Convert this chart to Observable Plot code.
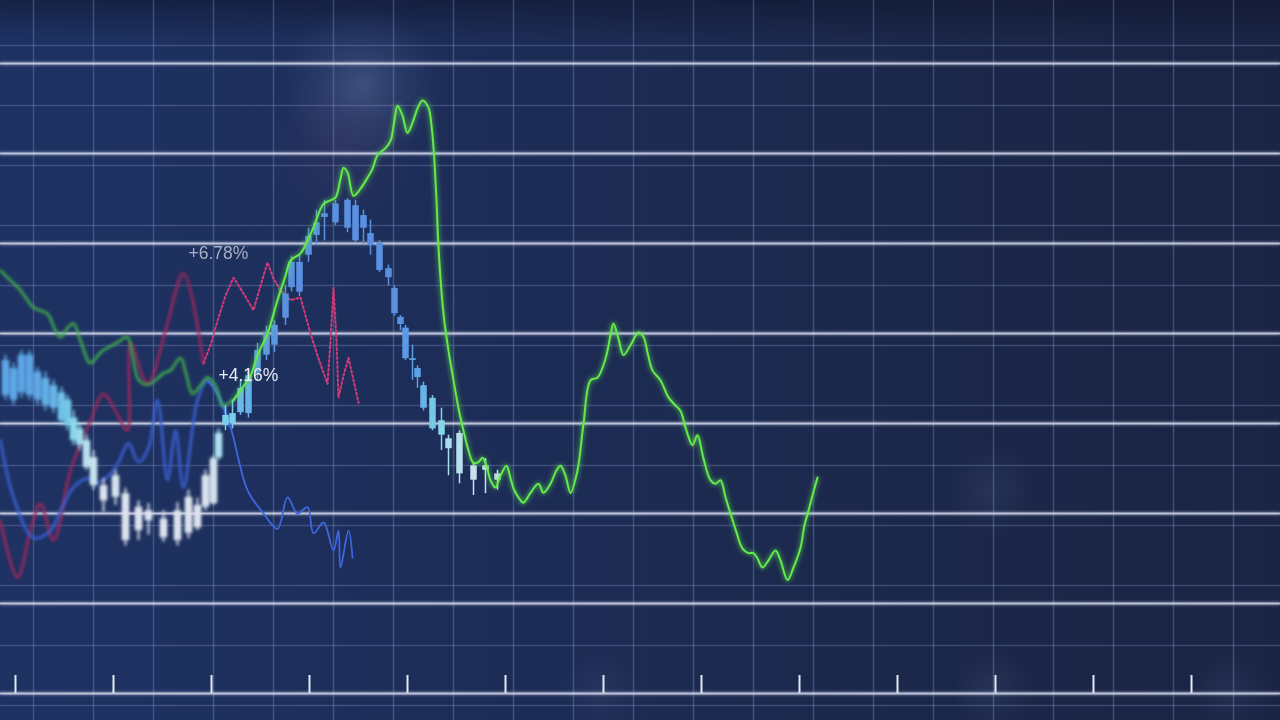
<!DOCTYPE html>
<html>
<head>
<meta charset="utf-8">
<script src="https://cdn.jsdelivr.net/npm/d3@7"></script>
<script src="https://cdn.jsdelivr.net/npm/@observablehq/plot@0.6"></script>
<style>
  html, body { margin: 0; padding: 0; background: #1b2a52; overflow: hidden; }
  #chart { width: 1280px; height: 720px; }
</style>
</head>
<body>
<div id="chart"></div>
<script>
// ---- grid / axis ----
const majorLevels = [0, 10, 20, 30, 40, 50, 60, 70];
const minorLevels = [72, 65.33, 58.67, 52, 45.33, 38.67, 32, 25.33, 18.67, 12, 5.33, -1.33];
const gridTimes = [3.3, 9.3, 15.3, 21.3, 27.3, 33.3, 39.3, 45.3, 51.3, 57.3, 63.3, 69.3, 75.3, 81.3, 87.3, 93.3, 99.3, 105.3, 111.3, 117.3, 123.3];
const tickTimes = [1.5, 11.3, 21.1, 30.9, 40.7, 50.5, 60.3, 70.1, 79.9, 89.7, 99.5, 109.3, 119.1];
const tickTop = 2.0;

// ---- green line ----
const greenT = [
  0, 1.0, 2.0, 3.3, 4.7, 5.5, 6.0, 6.7, 7.3, 8.0,
  9.0, 10.0, 10.7, 11.7, 12.7, 13.2, 13.7, 14.3, 15.0, 15.7,
  16.3, 17.0, 18.0, 18.6, 19.2, 20.0, 20.7, 21.5, 22.2, 22.7,
  23.3, 24.0, 25.0, 25.7, 26.7, 27.7, 28.5, 29.0, 30.0, 30.7,
  31.3, 32.3, 33.0, 33.5, 34.0, 34.3, 34.7, 35.3, 36.0, 36.7,
  37.2, 37.7, 38.5, 39.0, 39.4, 39.7, 40.2, 40.7, 41.2, 41.7,
  42.2, 42.8, 43.1, 43.3, 43.6, 43.8, 44.3, 44.8, 45.3, 45.8,
  46.3, 46.8, 47.3, 47.8, 48.2, 48.6, 49.0, 49.5, 50.0, 50.6,
  51.0, 51.3, 51.8, 52.3, 53.0, 53.8, 54.3, 55.0, 55.6, 56.0,
  56.5, 57.0, 57.7, 58.3, 59.0, 59.7, 60.5, 61.0, 61.3, 61.8,
  62.3, 63.0, 63.8, 64.3, 64.7, 65.2, 66.0, 66.8, 67.5, 68.0,
  68.6, 69.2, 69.7, 70.3, 71.0, 71.5, 72.0, 72.5, 73.0, 73.6,
  74.2, 74.8, 75.3, 75.7, 76.2, 76.8, 77.5, 78.0, 78.7, 79.3,
  80.0, 80.4, 80.8, 81.2, 81.7
];
const greenV = [
  47.0, 45.9, 44.8, 42.9, 42.2, 40.3, 39.6, 40.6, 41.1, 39.2,
  36.7, 37.9, 38.4, 39.0, 39.6, 37.6, 35.1, 34.4, 34.4, 35.0,
  35.6, 35.9, 37.3, 35.3, 33.3, 34.2, 35.1, 34.2, 32.0, 32.2,
  32.6, 33.7, 35.3, 37.6, 40.0, 43.7, 46.4, 48.1, 48.9, 50.3,
  51.8, 54.4, 54.8, 55.1, 57.2, 58.4, 57.9, 55.3, 56.1, 57.3,
  58.3, 59.8, 60.6, 61.4, 63.7, 65.3, 64.2, 62.3, 63.4, 65.0,
  65.9, 65.1, 63.1, 60.7, 54.8, 49.6, 42.2, 38.1, 34.8, 31.7,
  29.2, 27.0, 25.6, 25.7, 26.2, 25.3, 23.7, 22.9, 24.2, 25.3,
  23.9, 22.8, 21.8, 21.2, 22.3, 23.3, 22.3, 23.3, 24.8, 25.3,
  24.2, 22.3, 24.8, 30.0, 34.8, 35.1, 37.2, 39.8, 41.1, 39.4,
  37.6, 38.7, 40.1, 39.6, 37.9, 35.9, 34.8, 32.9, 32.0, 31.4,
  29.2, 27.6, 28.7, 26.1, 23.7, 23.3, 23.7, 21.8, 20.0, 17.9,
  16.1, 15.6, 15.6, 15.0, 14.0, 14.8, 15.9, 14.8, 12.6, 14.0,
  16.2, 18.7, 20.3, 22.0, 24.0
];

// ---- red lines ----
const redSolidT = [0, 1.7, 3.0, 4.0, 5.3, 7.0, 9.0, 10.3, 11.5, 12.7, 13.0, 14.7, 16.5, 18.3, 20.3];
const redSolidV = [19.2, 12.9, 18.1, 21.1, 17.0, 24.8, 30.3, 33.3, 31.4, 29.2, 38.9, 34.4, 40.3, 46.7, 36.7];
const redDotT = [20.3, 21.0, 21.7, 22.5, 23.3, 24.0, 24.7, 25.3, 26.0, 26.7, 27.3, 28.0, 29.0, 30.0, 30.5, 31.0, 31.8, 32.7, 33.0, 33.3, 33.6, 33.8, 34.3, 34.8, 35.3, 35.8];
const redDotV = [36.7, 38.7, 41.4, 44.2, 46.2, 45.0, 43.7, 42.6, 45.3, 47.9, 46.1, 44.8, 43.7, 44.0, 42.0, 40.0, 37.2, 34.4, 39.2, 45.1, 39.2, 32.9, 35.3, 37.3, 34.8, 32.3];

// ---- blue line ----
const blueT = [0, 1.3, 3.3, 5.0, 6.0, 7.3, 8.7, 9.7, 11.0, 11.8, 12.8, 13.8, 14.8, 15.7, 16.7, 17.5, 18.3, 19.7, 20.7, 21.7, 23.0, 24.7, 26.3, 27.7, 28.7, 29.7, 30.7, 31.3, 32.3, 33.3, 33.8, 34.0, 34.8, 35.2];
const blueV = [28.1, 21.8, 17.3, 18.1, 20.3, 22.9, 23.9, 23.4, 24.4, 25.7, 27.8, 25.7, 27.3, 32.6, 23.7, 29.2, 22.9, 32.6, 34.8, 33.3, 29.6, 22.6, 20.0, 18.3, 21.8, 20.0, 20.7, 17.8, 19.0, 15.9, 18.1, 14.0, 18.1, 15.1];

// ---- candlesticks ----
const candleT = [
  0.5, 1.3, 2.1, 2.9, 3.7, 4.5, 5.3, 6.1, 6.7, 7.3,
  7.9, 8.6, 9.3, 10.3, 11.5, 12.5, 13.8, 14.8, 16.3, 17.7,
  18.8, 19.7, 20.5, 21.3, 21.8, 22.5, 23.2, 24.0, 24.8, 25.7,
  26.6, 27.4, 28.5, 29.1, 29.9, 30.8, 31.6, 32.4, 33.5, 34.7,
  35.5, 36.3, 37.0, 37.9, 38.8, 39.4, 40.0, 40.5, 41.2, 41.7,
  42.3, 43.2, 44.1, 44.8, 45.9, 47.3, 48.5, 49.7
];
const candleTop = [
  37.0, 36.1, 37.6, 37.6, 35.7, 35.0, 34.2, 33.4, 32.6, 30.6,
  29.4, 28.1, 26.2, 23.1, 24.2, 22.2, 20.7, 20.3, 19.4, 20.3,
  21.8, 20.9, 24.2, 26.1, 28.9, 30.9, 31.1, 33.9, 35.3, 38.1,
  40.0, 40.9, 44.4, 47.9, 47.9, 50.8, 52.3, 53.3, 54.4, 54.8,
  54.2, 53.1, 51.1, 50.0, 47.2, 45.0, 41.8, 40.6, 37.2, 36.1,
  34.2, 32.8, 30.3, 28.3, 28.9, 25.3, 25.3, 24.4
];
const candleBottom = [
  33.1, 32.6, 33.4, 33.1, 32.6, 32.0, 31.7, 30.3, 29.8, 28.1,
  27.6, 25.1, 23.1, 21.4, 21.8, 17.0, 18.1, 19.2, 17.3, 17.0,
  17.8, 18.4, 20.7, 21.1, 26.2, 29.8, 30.0, 31.2, 31.1, 35.6,
  37.6, 38.7, 41.7, 45.1, 44.6, 48.7, 50.9, 52.9, 52.3, 51.7,
  50.3, 51.7, 49.8, 47.0, 46.2, 42.2, 41.0, 37.2, 37.0, 35.1,
  31.7, 29.4, 28.7, 27.2, 24.4, 23.7, 24.8, 23.7
];
const candleHigh = [
  37.6, 36.7, 38.1, 38.1, 36.2, 35.7, 34.8, 34.0, 33.1, 31.4,
  30.0, 28.7, 27.0, 23.9, 24.8, 22.8, 21.4, 21.1, 20.3, 21.2,
  22.6, 21.7, 24.8, 26.4, 29.4, 32.0, 32.6, 34.8, 35.9, 38.9,
  40.8, 41.4, 45.3, 48.6, 48.7, 51.7, 53.7, 54.8, 54.8, 55.0,
  54.8, 53.7, 52.6, 50.3, 47.6, 45.3, 42.0, 40.9, 38.7, 36.4,
  34.6, 33.1, 31.7, 28.7, 29.2, 25.7, 26.1, 24.8
];
const candleLow = [
  32.6, 32.0, 32.8, 32.6, 32.0, 31.4, 31.1, 29.8, 29.2, 27.6,
  27.0, 24.8, 22.6, 20.1, 20.9, 16.4, 17.0, 17.6, 16.8, 16.4,
  17.2, 18.1, 20.3, 20.9, 25.9, 29.2, 29.4, 30.9, 30.6, 34.8,
  37.0, 37.9, 40.9, 44.6, 44.1, 47.9, 49.8, 50.3, 52.0, 51.2,
  50.1, 49.8, 48.7, 46.8, 45.3, 41.9, 40.3, 37.0, 34.8, 33.9,
  31.4, 29.2, 27.0, 24.2, 23.3, 22.0, 22.2, 22.6
];
const candleColorLevels = [22, 27, 30, 34, 42];
const candleColors = ["#dce2ee", "#b6e0ee", "#7cd4e8", "#5ea8e6", "#5a90e2"];

// ---- labels ----
const labelText = ["+6.78%", "+4.16%"];
const labelT = [18.8, 21.8];
const labelV = [48.9, 35.3];
const labelColor = ["#a9afc2", "#e8ecf4"];

// ---- tables ----
const green = greenT.map((t, i) => ({t, v: greenV[i]}));
const greenLeft = green.filter(d => d.t <= 23.3);
const greenRight = green.filter(d => d.t >= 23.3);
const redSolid = redSolidT.map((t, i) => ({t, v: redSolidV[i]}));
const redDot = redDotT.map((t, i) => ({t, v: redDotV[i]}));
const blue = blueT.map((t, i) => ({t, v: blueV[i]}));
const blueLeft = blue.filter(d => d.t <= 23.0);
const blueRight = blue.filter(d => d.t >= 20.7);
const candles = candleT.map((t, i) => ({t, top: candleTop[i], bottom: candleBottom[i], high: candleHigh[i], low: candleLow[i]}));
const candlesLeft = candles.filter(d => d.t < 22);
const candlesRight = candles.filter(d => d.t >= 22);
const labels = labelText.map((s, i) => ({s, t: labelT[i], v: labelV[i], c: labelColor[i]}));
const mid = d => (d.top + d.bottom) / 2;

const bg = [
  "radial-gradient(circle at 362px 85px, rgba(150,170,215,0.26) 0px, rgba(140,160,210,0.10) 40px, rgba(0,0,0,0) 80px)",
  "radial-gradient(circle at 340px 150px, rgba(120,70,120,0.14) 0px, rgba(0,0,0,0) 80px)",
  "radial-gradient(circle at 990px 490px, rgba(120,140,190,0.12) 0px, rgba(0,0,0,0) 45px)",
  "radial-gradient(circle at 990px 690px, rgba(120,140,190,0.12) 0px, rgba(0,0,0,0) 40px)",
  "radial-gradient(circle at 600px 690px, rgba(120,140,190,0.10) 0px, rgba(0,0,0,0) 40px)",
  "radial-gradient(circle at 1230px 690px, rgba(120,140,190,0.10) 0px, rgba(0,0,0,0) 40px)",
  "linear-gradient(to bottom, rgba(10,15,35,0.45) 0px, rgba(10,15,35,0) 40px)",
  "linear-gradient(to right, #1e3263 0%, #1d2d58 35%, #1b2749 75%, #1a2445 100%)"
].join(",");

const chart = Plot.plot({
  width: 1280,
  height: 720,
  margin: 0,
  x: {domain: [0, 128], axis: null},
  y: {domain: [-3, 77], axis: null},
  color: {type: "linear", domain: candleColorLevels, range: candleColors, clamp: true},
  style: {background: bg, overflow: "hidden"},
  marks: [
    Plot.ruleY(minorLevels, {stroke: "#8d9dd0", strokeOpacity: 0.3, strokeWidth: 1.5}),
    Plot.ruleX(gridTimes, {stroke: "#8d9dd0", strokeOpacity: 0.33, strokeWidth: 1.5}),
    Plot.ruleY(majorLevels, {stroke: "#d3daee", strokeOpacity: 0.78, strokeWidth: 2, ariaDescription: "glowsoft"}),
    Plot.ruleX(tickTimes, {y1: 0, y2: tickTop, stroke: "#e3e8f4", strokeWidth: 2}),
    Plot.line(redSolid, {x: "t", y: "v", stroke: "#a0285c", strokeWidth: 2.6, curve: "catmull-rom", ariaDescription: "blur2"}),
    Plot.line(blueLeft, {x: "t", y: "v", stroke: "#3a62d8", strokeWidth: 2.6, curve: "catmull-rom", ariaDescription: "blur2"}),
    Plot.line(blueRight, {x: "t", y: "v", stroke: "#3e66e0", strokeWidth: 1.8, curve: "catmull-rom", ariaDescription: "blur05"}),
    Plot.line(greenLeft, {x: "t", y: "v", stroke: "#3fae4c", strokeWidth: 2.6, curve: "catmull-rom", ariaDescription: "blur2"}),
    Plot.line(redDot, {x: "t", y: "v", stroke: "#d33a78", strokeWidth: 2, strokeDasharray: "2,2.5", ariaDescription: "blur05"}),
    Plot.ruleX(candlesLeft, {x: "t", y1: "low", y2: "high", stroke: mid, strokeWidth: 2, ariaDescription: "blur2"}),
    Plot.ruleX(candlesLeft, {x: "t", y1: "bottom", y2: "top", stroke: mid, strokeWidth: 7.5, ariaDescription: "blur2"}),
    Plot.ruleX(candlesRight, {x: "t", y1: "low", y2: "high", stroke: mid, strokeWidth: 1.5, ariaDescription: "blur05"}),
    Plot.ruleX(candlesRight, {x: "t", y1: "bottom", y2: "top", stroke: mid, strokeWidth: 6.5, ariaDescription: "blur05"}),
    Plot.line(greenRight, {x: "t", y: "v", stroke: "#63ea4c", strokeWidth: 2, curve: "catmull-rom", ariaDescription: "glow"}),
    Plot.text(labels, {x: "t", y: "v", text: "s", fill: "c", textAnchor: "start", fontSize: 17.5, fontFamily: "Liberation Sans, Arial, sans-serif", ariaDescription: "blur05"})
  ]
});

// filters (styling only)
const svg = d3.select(chart);
const defs = svg.insert("defs", ":first-child");
function filt(id) {
  return defs.append("filter").attr("id", id)
    .attr("filterUnits", "userSpaceOnUse")
    .attr("x", 0).attr("y", 0).attr("width", 1280).attr("height", 720);
}
filt("blur2").append("feGaussianBlur").attr("stdDeviation", 1.8);
filt("blur05").append("feGaussianBlur").attr("stdDeviation", 0.5);
{
  const f = filt("glow");
  f.append("feGaussianBlur").attr("in", "SourceGraphic").attr("stdDeviation", 2.5).attr("result", "b");
  const m = f.append("feMerge");
  m.append("feMergeNode").attr("in", "b");
  m.append("feMergeNode").attr("in", "SourceGraphic");
}
{
  const f = filt("glowsoft");
  f.append("feGaussianBlur").attr("in", "SourceGraphic").attr("stdDeviation", 1.5).attr("result", "b");
  const m = f.append("feMerge");
  m.append("feMergeNode").attr("in", "b");
  m.append("feMergeNode").attr("in", "SourceGraphic");
}
for (const id of ["blur2", "blur05", "glow", "glowsoft"]) {
  svg.selectAll(`g[aria-description="${id}"]`).attr("filter", `url(#${id})`);
}

document.getElementById("chart").appendChild(chart);
</script>
</body>
</html>
